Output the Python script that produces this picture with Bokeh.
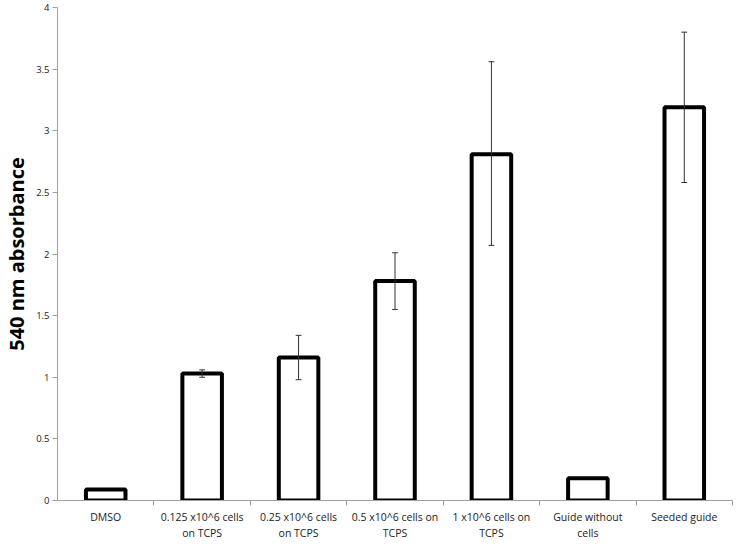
from bokeh.plotting import figure
from bokeh.models import ColumnDataSource, FixedTicker, Range1d
from bokeh.embed import file_html
from bokeh.resources import INLINE

categories = ["DMSO", "0.125 x10^6 cells\non TCPS", "0.25 x10^6 cells\non TCPS",
              "0.5 x10^6 cells on\nTCPS", "1 x10^6 cells on\nTCPS", "Guide without\ncells",
              "Seeded guide"]
values = [0.09, 1.03, 1.16, 1.78, 2.81, 0.18, 3.19]
err_upper = [0.09, 1.06, 1.34, 2.01, 3.56, 0.18, 3.80]
err_lower = [0.09, 1.00, 0.98, 1.55, 2.07, 0.18, 2.58]
has_err = [False, True, True, True, True, False, True]
y_ticks = [0, 0.5, 1, 1.5, 2, 2.5, 3, 3.5, 4]

xs = [i + 0.5 for i in range(len(categories))]
src = ColumnDataSource(dict(x=xs, top=values))
ex = [x for x, h in zip(xs, has_err) if h]
eu = [u for u, h in zip(err_upper, has_err) if h]
el = [l for l, h in zip(err_lower, has_err) if h]
cap = 0.03
esrc = ColumnDataSource(dict(x=ex, upper=eu, lower=el,
                             x0=[x - cap for x in ex], x1=[x + cap for x in ex]))

p = figure(width=734, height=542, output_backend="svg", toolbar_location=None,
           x_range=Range1d(0, len(categories)), y_range=Range1d(0, 4),
           min_border_top=7, min_border_right=2, min_border_bottom=0, min_border_left=0)

p.vbar(x="x", top="top", bottom=0, width=0.41, source=src,
       fill_color="white", line_color="black", line_width=4)

ecol = "#333333"
p.segment(x0="x", y0="lower", x1="x", y1="upper", source=esrc, line_color=ecol, line_width=1)
p.segment(x0="x0", y0="upper", x1="x1", y1="upper", source=esrc, line_color=ecol, line_width=1)
p.segment(x0="x0", y0="lower", x1="x1", y1="lower", source=esrc, line_color=ecol, line_width=1)

p.grid.visible = False
p.outline_line_color = None
p.background_fill_color = "white"

p.xaxis.ticker = FixedTicker(ticks=xs, minor_ticks=list(range(1, len(categories) + 1)))
p.xaxis.major_label_overrides = {x: c for x, c in zip(xs, categories)}
p.xaxis.major_tick_out = 0
p.xaxis.major_tick_in = 0
p.xaxis.minor_tick_out = 5
p.xaxis.minor_tick_in = 0
p.xaxis.axis_line_color = "#a0a0a0"
p.xaxis.minor_tick_line_color = "#a0a0a0"
p.xaxis.major_label_text_font = "Open Sans"
p.xaxis.major_label_text_font_size = "10.5px"
p.xaxis.major_label_text_line_height = 1.15
p.xaxis.major_label_text_color = "#222222"
p.xaxis.major_label_standoff = 4

p.yaxis.ticker = FixedTicker(ticks=y_ticks)
p.yaxis.major_label_overrides = {0: "0", 1: "1", 2: "2", 3: "3", 4: "4"}
p.yaxis.minor_tick_line_color = None
p.yaxis.major_tick_out = 5
p.yaxis.major_tick_in = 0
p.yaxis.axis_line_color = "#a0a0a0"
p.yaxis.major_tick_line_color = "#a0a0a0"
p.yaxis.major_label_text_font = "Open Sans"
p.yaxis.major_label_text_font_size = "9.5px"
p.yaxis.major_label_text_color = "#222222"
p.yaxis.major_label_standoff = 3
p.yaxis.axis_label = "540 nm absorbance"
p.yaxis.axis_label_text_font = "Open Sans"
p.yaxis.axis_label_text_font_style = "bold"
p.yaxis.axis_label_text_font_size = "20px"
p.yaxis.axis_label_text_color = "black"
p.yaxis.axis_label_standoff = 3

open("out.html", "w").write(file_html(p, INLINE))
